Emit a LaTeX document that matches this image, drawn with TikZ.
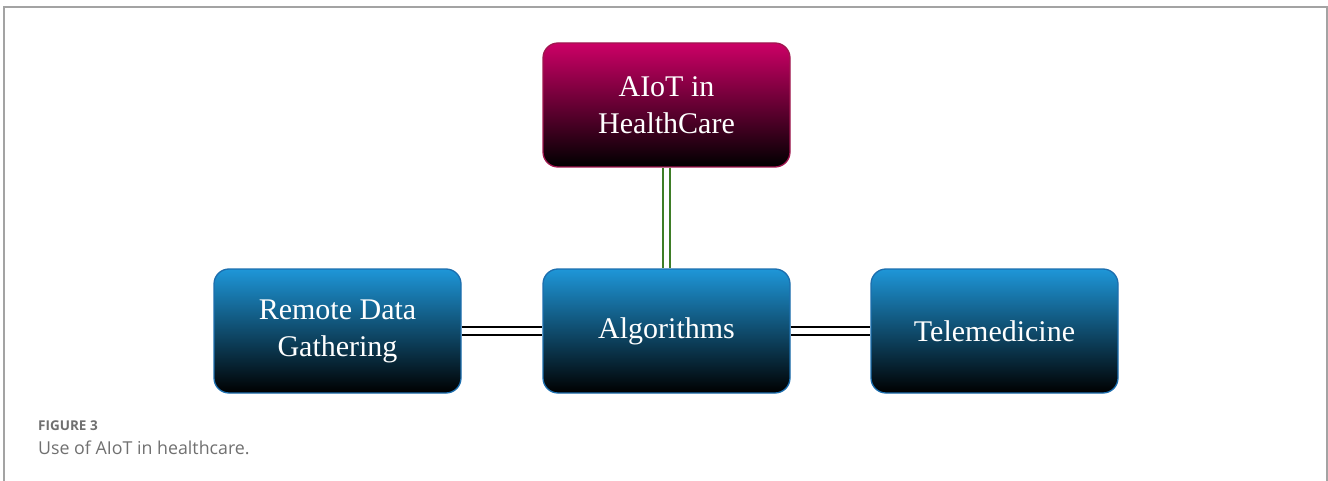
\documentclass[tikz,border=0pt]{standalone}
\usepackage{fontspec}
\setmainfont{Liberation Serif}
\newfontfamily\captionfont{Open Sans}
\usepackage{tikz}
\usetikzlibrary{positioning}

\definecolor{topcol}{HTML}{CC0066}
\definecolor{topedge}{HTML}{A0174F}
\definecolor{bluecol}{HTML}{1E96D8}
\definecolor{blueedge}{HTML}{1C6EAE}
\definecolor{linkgreen}{HTML}{3E7D26}
\definecolor{framegray}{HTML}{A3A3A3}
\definecolor{captiongray}{HTML}{707070}

\tikzset{
	topicbox/.style={shape=rectangle, rounded corners=15pt, minimum width=247pt, minimum height=124pt,
		line width=1.3pt, text=white, align=center, font=\fontsize{30}{37}\selectfont},
	hubbox/.style={topicbox, draw=topedge, top color=topcol, bottom color=black},
	leafbox/.style={topicbox, draw=blueedge, top color=bluecol, bottom color=black},
	link/.style={line width=1.8pt, double=white, double distance=5.5pt}
}

\begin{document}
\begin{tikzpicture}[x=1pt, y=-1pt]
	\useasboundingbox (0, 0) rectangle (1328, 481);
	\draw[framegray, line width=1.5pt] (4, 481) -- (4, 7) -- (1327, 7) -- (1327, 481);

	\node[hubbox] (H) at (666.5, 105) {AIoT in\\HealthCare};
	\node[leafbox] (A) at (666.5, 331) {Algorithms};
	\node[leafbox] (R) at (337.5, 331) {Remote Data\\Gathering};
	\node[leafbox] (T) at (994.5, 331) {Telemedicine};

	\path[link, draw=linkgreen] (H) -- (A);
	\path[link, draw=black] (R) -- (A);
	\path[link, draw=black] (A) -- (T);

	\node[anchor=base west, inner sep=0, text=captiongray, font=\captionfont\bfseries\fontsize{13.5}{16}\selectfont] (F) at (38, 430) {FIGURE 3};
	\node[anchor=base west, inner sep=0, text=captiongray, font=\captionfont\fontsize{17.8}{21}\selectfont] (C) at (38, 454) {Use of AIoT in healthcare.};
\end{tikzpicture}
\end{document}
